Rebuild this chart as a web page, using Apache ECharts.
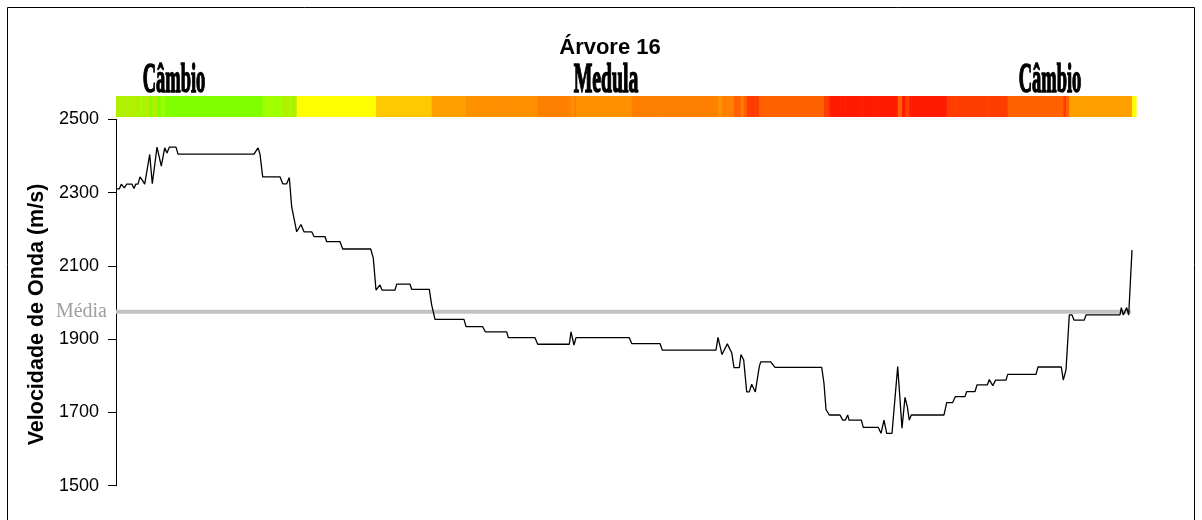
<!DOCTYPE html>
<html><head><meta charset="utf-8">
<script src="https://cdn.jsdelivr.net/npm/echarts@6/dist/echarts.min.js"></script>
<style>html,body{margin:0;padding:0;background:#fff}#c{width:1202px;height:520px}</style>
</head><body><div id="c"></div>
<script>
// Position along the sample (relative units) and wave velocity (m/s)
const positions = [0,3.3,5.3,8.3,10.7,16,18,19.7,22,24,26.3,28.7,33.7,36.3,41,45.3,48.7,51,53.3,60,62,138,142,144,146.7,164,166.7,170.7,173.3,175.7,180.7,185,188,195.7,198,209,210.7,224,226.7,254.7,257.3,260,264,266,279,280.7,294,295.7,313.3,315.7,319,348,350,366.7,369.3,390.7,392.3,419,421.7,453.3,455,458,460,513.3,515.7,544,546.3,600,602,606,611.3,614,615.7,618,623.3,625,627.7,630.7,633.3,635.7,639.3,643.3,644.7,654.7,659,705.7,708,710,713.3,724,726.7,729.3,731.7,733,745.3,747.3,762.3,765,768,770.7,776,781.7,786,789,791.3,793.3,795.3,828,830.7,836.7,839.3,849,850.7,859,861,871.3,873.3,876.7,879.7,890,891.7,920,922,945.3,947.3,950,953.3,956,958,968.3,970,1004,1005.3,1007.3,1010.7,1012.7,1016];
const velocities = [2310,2310,2323,2313,2323,2323,2311,2323,2323,2343,2334,2323,2404,2324,2424,2372,2422,2408,2424,2424,2405,2405,2422,2405,2343,2343,2324,2324,2341,2261,2193,2213,2193,2193,2180,2180,2166,2166,2146,2146,2121,2034,2048,2034,2034,2050,2050,2036,2036,1993,1954,1954,1934,1934,1920,1920,1904,1904,1886,1886,1920,1884,1904,1904,1888,1888,1870,1870,1905,1858,1887,1872,1863,1822,1822,1858,1843,1756,1756,1777,1756,1825,1838,1838,1823,1823,1779,1708,1693,1693,1679,1679,1693,1679,1679,1659,1659,1643,1679,1643,1643,1825,1657,1741,1716,1679,1693,1693,1727,1727,1743,1743,1757,1757,1775,1775,1790,1773,1788,1788,1804,1804,1824,1824,1788,1816,1966,1966,1952,1952,1966,1966,1986,1966,1986,1966,2143];
const meanVelocity = 1975;
const stripEnd = 1020;
const yTicks = [1500, 2500, 200];
const titleText = 'Árvore 16';
const yName = 'Velocidade de Onda (m/s)';
const zoneLabels = ['Câmbio', 'Medula', 'Câmbio'];
const meanLabel = 'Média';

const lineData = positions.map((p, i) => [p, velocities[i]]);
const stripData = positions.map((p, i) => [p, i < positions.length - 1 ? positions[i + 1] : stripEnd, velocities[i]]);

const chart = echarts.init(document.getElementById('c'), null, {renderer: 'canvas'});
const zoneFont = "bold 42px 'Liberation Serif'";
const zoneStyle = t => ({text: t, font: zoneFont, fill: '#000', stroke: '#000', lineWidth: 1.6, textAlign: 'center', textVerticalAlign: 'bottom'});
const option = {
  animation: false,
  backgroundColor: '#fff',
  title: {text: titleText, left: 605, textAlign: 'center', top: 32,
    textStyle: {fontFamily: 'Liberation Sans', fontWeight: 'bold', fontSize: 22, color: '#000'}},
  grid: [
    {left: 116, right: 61, top: 119.3, bottom: 34.3},
    {left: 116, right: 61, top: 96, height: 21}
  ],
  xAxis: [
    {gridIndex: 0, type: 'value', min: 0, max: 1025, show: false},
    {gridIndex: 1, type: 'value', min: 0, max: 1025, show: false}
  ],
  yAxis: [
    {gridIndex: 0, type: 'value', min: yTicks[0], max: yTicks[1], interval: yTicks[2],
      name: yName, nameLocation: 'middle', nameGap: 64,
      nameTextStyle: {fontFamily: 'Liberation Sans', fontWeight: 'bold', fontSize: 21.5, color: '#000', padding: [0, 24, 0, 0]},
      axisLine: {show: true, lineStyle: {color: '#000', width: 1}},
      axisTick: {show: true, length: 8, lineStyle: {color: '#000'}},
      axisLabel: {margin: 17, fontFamily: 'Liberation Sans', fontSize: 18, color: '#000', formatter: v => String(v)},
      splitLine: {show: false}},
    {gridIndex: 1, type: 'value', min: 0, max: 1, show: false}
  ],
  visualMap: {
    type: 'piecewise', show: false, seriesIndex: 2, dimension: 2,
    pieces: [
      {lt: 1700, color: '#ff1a00'},
      {gte: 1700, lt: 1800, color: '#ff3c00'},
      {gte: 1800, lt: 1850, color: '#ff6000'},
      {gte: 1850, lt: 1895, color: '#ff8000'},
      {gte: 1895, lt: 1940, color: '#ff9000'},
      {gte: 1940, lt: 2000, color: '#ffa000'},
      {gte: 2000, lt: 2100, color: '#ffc800'},
      {gte: 2100, lt: 2250, color: '#ffff00'},
      {gte: 2250, lt: 2335, color: '#b0f000'},
      {gte: 2335, lt: 2380, color: '#a0ff00'},
      {gte: 2380, color: '#80ff00'}
    ]
  },
  series: [
    {type: 'line', name: 'mean', xAxisIndex: 0, yAxisIndex: 0, z: 2,
      data: [[0, meanVelocity], [positions[positions.length - 1] - 1, meanVelocity]],
      symbol: 'none', lineStyle: {color: '#c3c3c3', width: 4}},
    {type: 'line', name: 'velocidade', xAxisIndex: 0, yAxisIndex: 0, z: 3,
      data: lineData, symbol: 'none', lineStyle: {color: '#000', width: 1.3}},
    {type: 'custom', name: 'strip', xAxisIndex: 1, yAxisIndex: 1,
      data: stripData, encode: {x: [0, 1]},
      renderItem: function (params, api) {
        const p0 = api.coord([api.value(0), 1]);
        const p1 = api.coord([api.value(1), 0]);
        return {type: 'rect', shape: {x: p0[0], y: p0[1], width: p1[0] - p0[0] + 0.6, height: p1[1] - p0[1]},
          style: {fill: api.visual('color')}};
      }}
  ],
  graphic: [
    {id: 'border', type: 'rect', shape: {x: 7.5, y: 7.5, width: 1187, height: 530},
      style: {fill: 'none', stroke: '#000', lineWidth: 1}, silent: true},
    {id: 'z0', type: 'text', x: 174, y: 102, scaleX: 0.44, style: zoneStyle(zoneLabels[0])},
    {id: 'z1', type: 'text', x: 606, y: 102, scaleX: 0.47, style: zoneStyle(zoneLabels[1])},
    {id: 'z2', type: 'text', x: 1050, y: 102, scaleX: 0.44, style: zoneStyle(zoneLabels[2])}
  ]
};
chart.setOption(option);
const mp = chart.convertToPixel({gridIndex: 0}, [0, meanVelocity]);
chart.setOption({graphic: [
  {id: 'meanLabel', type: 'text', x: mp[0] - 9, y: mp[1],
    style: {text: meanLabel, font: "20px 'Liberation Serif'", fill: '#a0a0a0', textAlign: 'right', textVerticalAlign: 'middle'}}
]});
</script></body></html>
